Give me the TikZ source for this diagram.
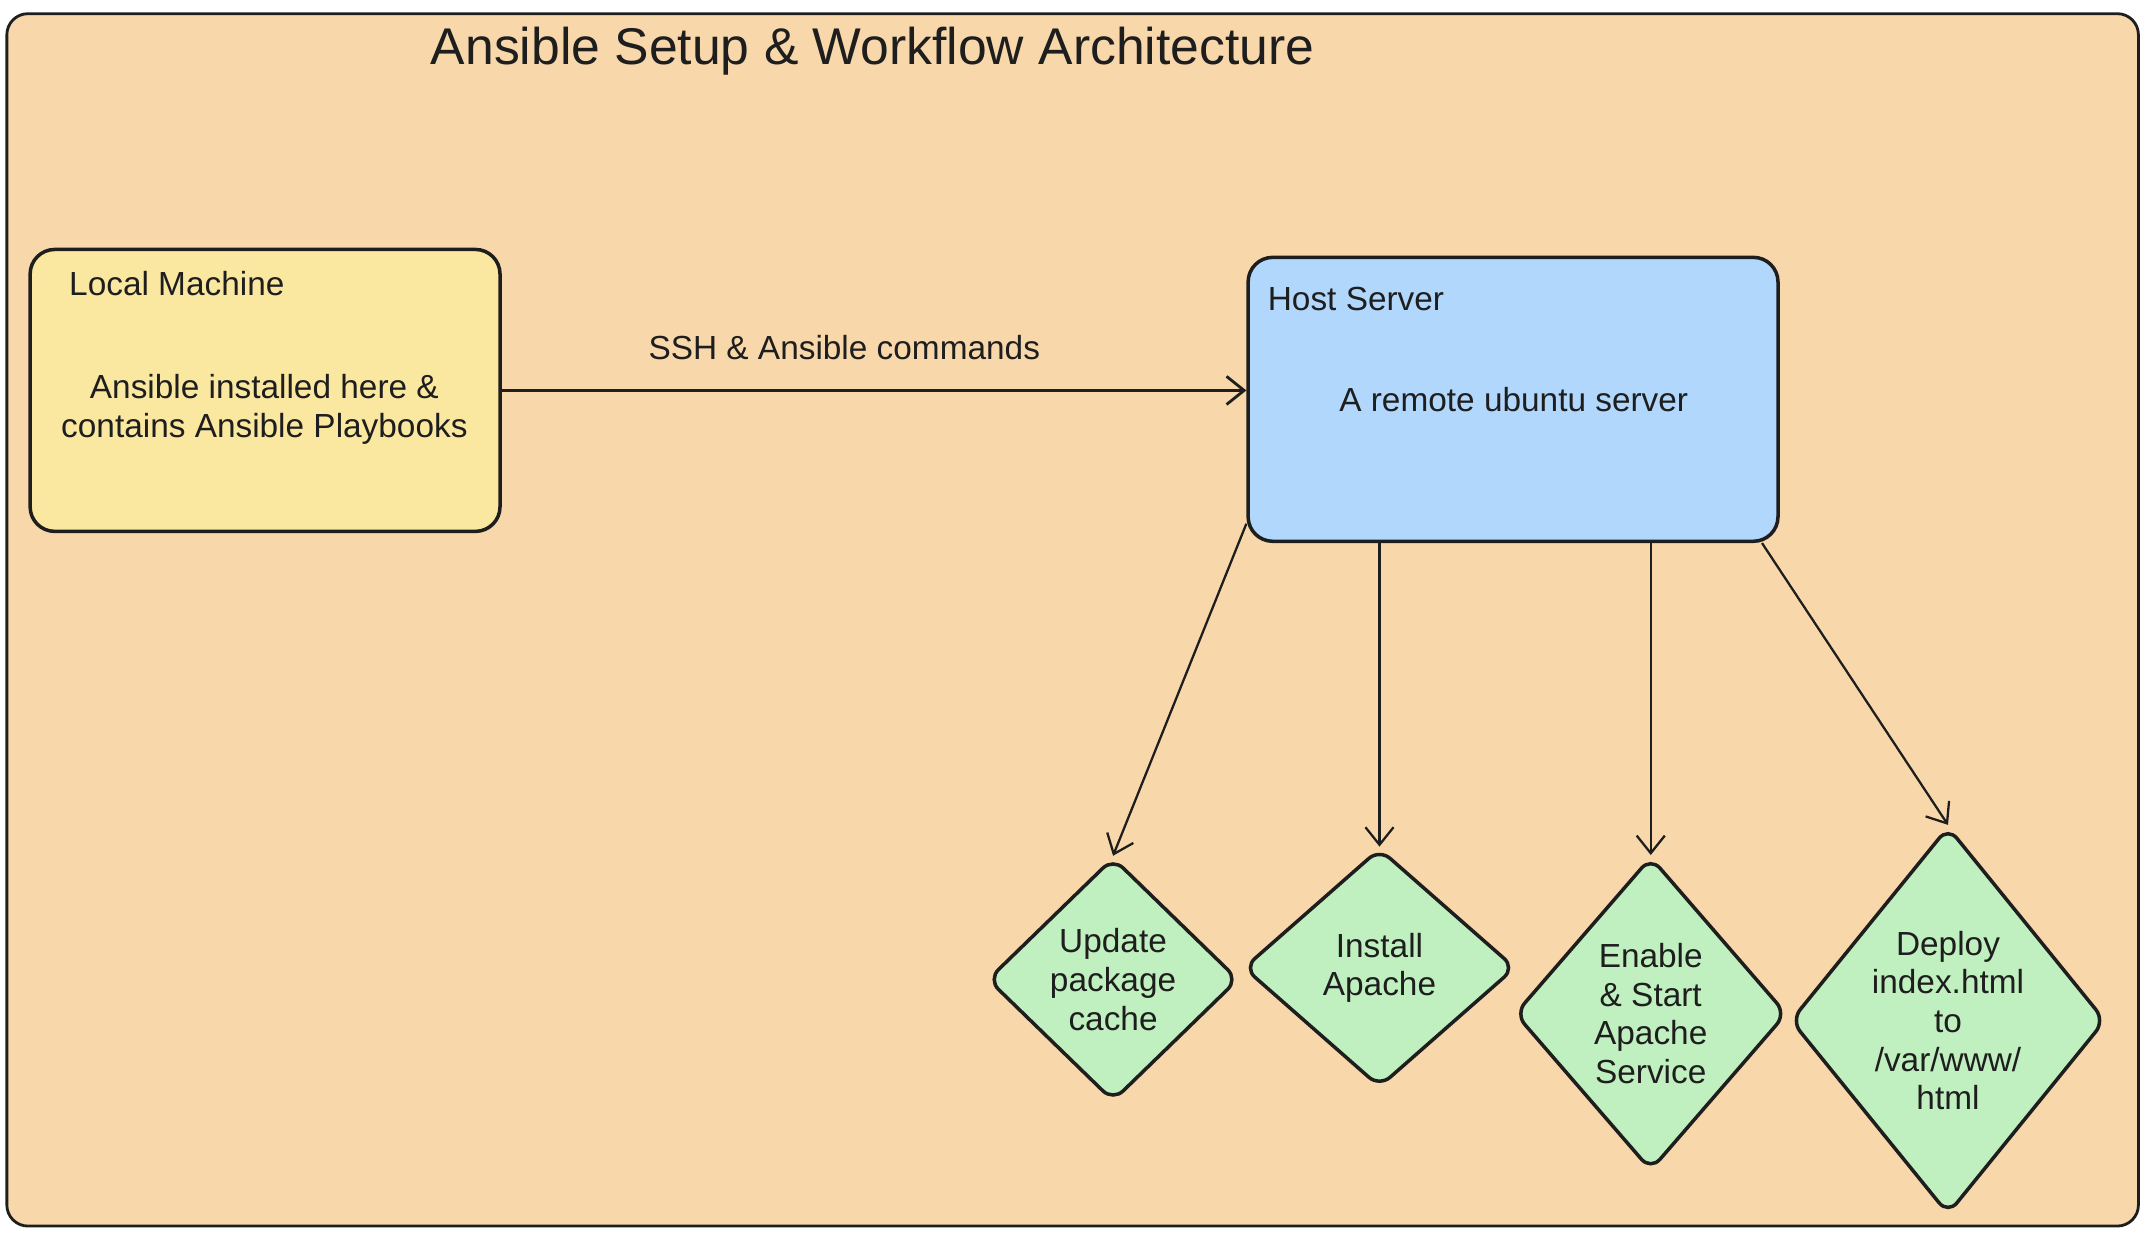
\documentclass[tikz,border=0pt]{standalone}
\usepackage{fontspec}
\setmainfont{Liberation Sans}
\usetikzlibrary{arrows.meta,positioning}
\usetikzlibrary{shapes.geometric}
\definecolor{framefill}{HTML}{F8D8AB}
\definecolor{localfill}{HTML}{FBE8A0}
\definecolor{hostfill}{HTML}{B1D7FC}
\definecolor{taskfill}{HTML}{C0F0C0}
\definecolor{inkline}{HTML}{1E1E1E}
\begin{document}
\begin{tikzpicture}[x=0.0137cm,y=-0.0137cm,auto=left,
		every node/.style={text=inkline,font=\fontsize{9.5}{11}\selectfont},
		box node/.style={draw=inkline,rounded corners=7pt,line width=1pt,inner sep=0pt},
		task node/.style={draw=inkline,shape=diamond,rounded corners=4pt,line width=1pt,fill=taskfill,inner sep=0pt,align=center},
		flow/.style={draw=inkline,line width=0.65pt,-{Straight Barb[length=5pt,width=8pt]}}]
		\useasboundingbox (0,0) rectangle (1568,903.7);
		\draw[fill=framefill,draw=inkline,line width=0.8pt,rounded corners=6pt] (5,10) rectangle (1561,895);
		
		\node (title) at (637,37) {\fontsize{14.7}{16}\selectfont Ansible Setup \& Workflow Architecture};
		
		\node[box node,fill=localfill,minimum width=4.70cm,minimum height=2.82cm] (local) at (193.5,285) {};
		\node[box node,fill=hostfill,minimum width=5.30cm,minimum height=2.84cm] (host) at (1104.5,291.5) {};
		
		\node[anchor=west,inner sep=0pt] (localname) at (50,207) {Local Machine};
		\node[align=center] (localtext) at (193,299) {Ansible installed here \&\\contains Ansible Playbooks};
		\node[anchor=west,inner sep=0pt] (hostname) at (925,218) {Host Server};
		\node (hosttext) at (1105,292) {A remote ubuntu server};
		
		\node[task node,minimum width=2.51cm,minimum height=2.44cm,shape aspect=1.03] (d1) at (812.5,715) {Update\\package\\cache};
		\node[task node,minimum width=2.72cm,minimum height=2.39cm,shape aspect=1.14] (d2) at (1007,706.5) {Install\\Apache};
		\node[task node,minimum width=2.72cm,minimum height=3.14cm,shape aspect=0.86] (d3) at (1205,740) {Enable\\\& Start\\Apache\\Service};
		\node[task node,minimum width=3.15cm,minimum height=3.88cm,shape aspect=0.81] (d4) at (1422,745) {Deploy\\index.html\\to\\/var/www/\\html};
		
		\draw[flow,line width=0.8pt] (local.east) to node [above=5pt,pos=0.46] {SSH \& Ansible commands} (local.east -| host.west);
		\draw[flow] (host.205) to (d1.north);
		\draw[flow] (d2.north |- host.south) to (d2.north);
		\draw[flow] (d3.north |- host.south) to (d3.north);
		\draw[flow] (host.-30) to (d4.north);
		\end{tikzpicture}
\end{document}
